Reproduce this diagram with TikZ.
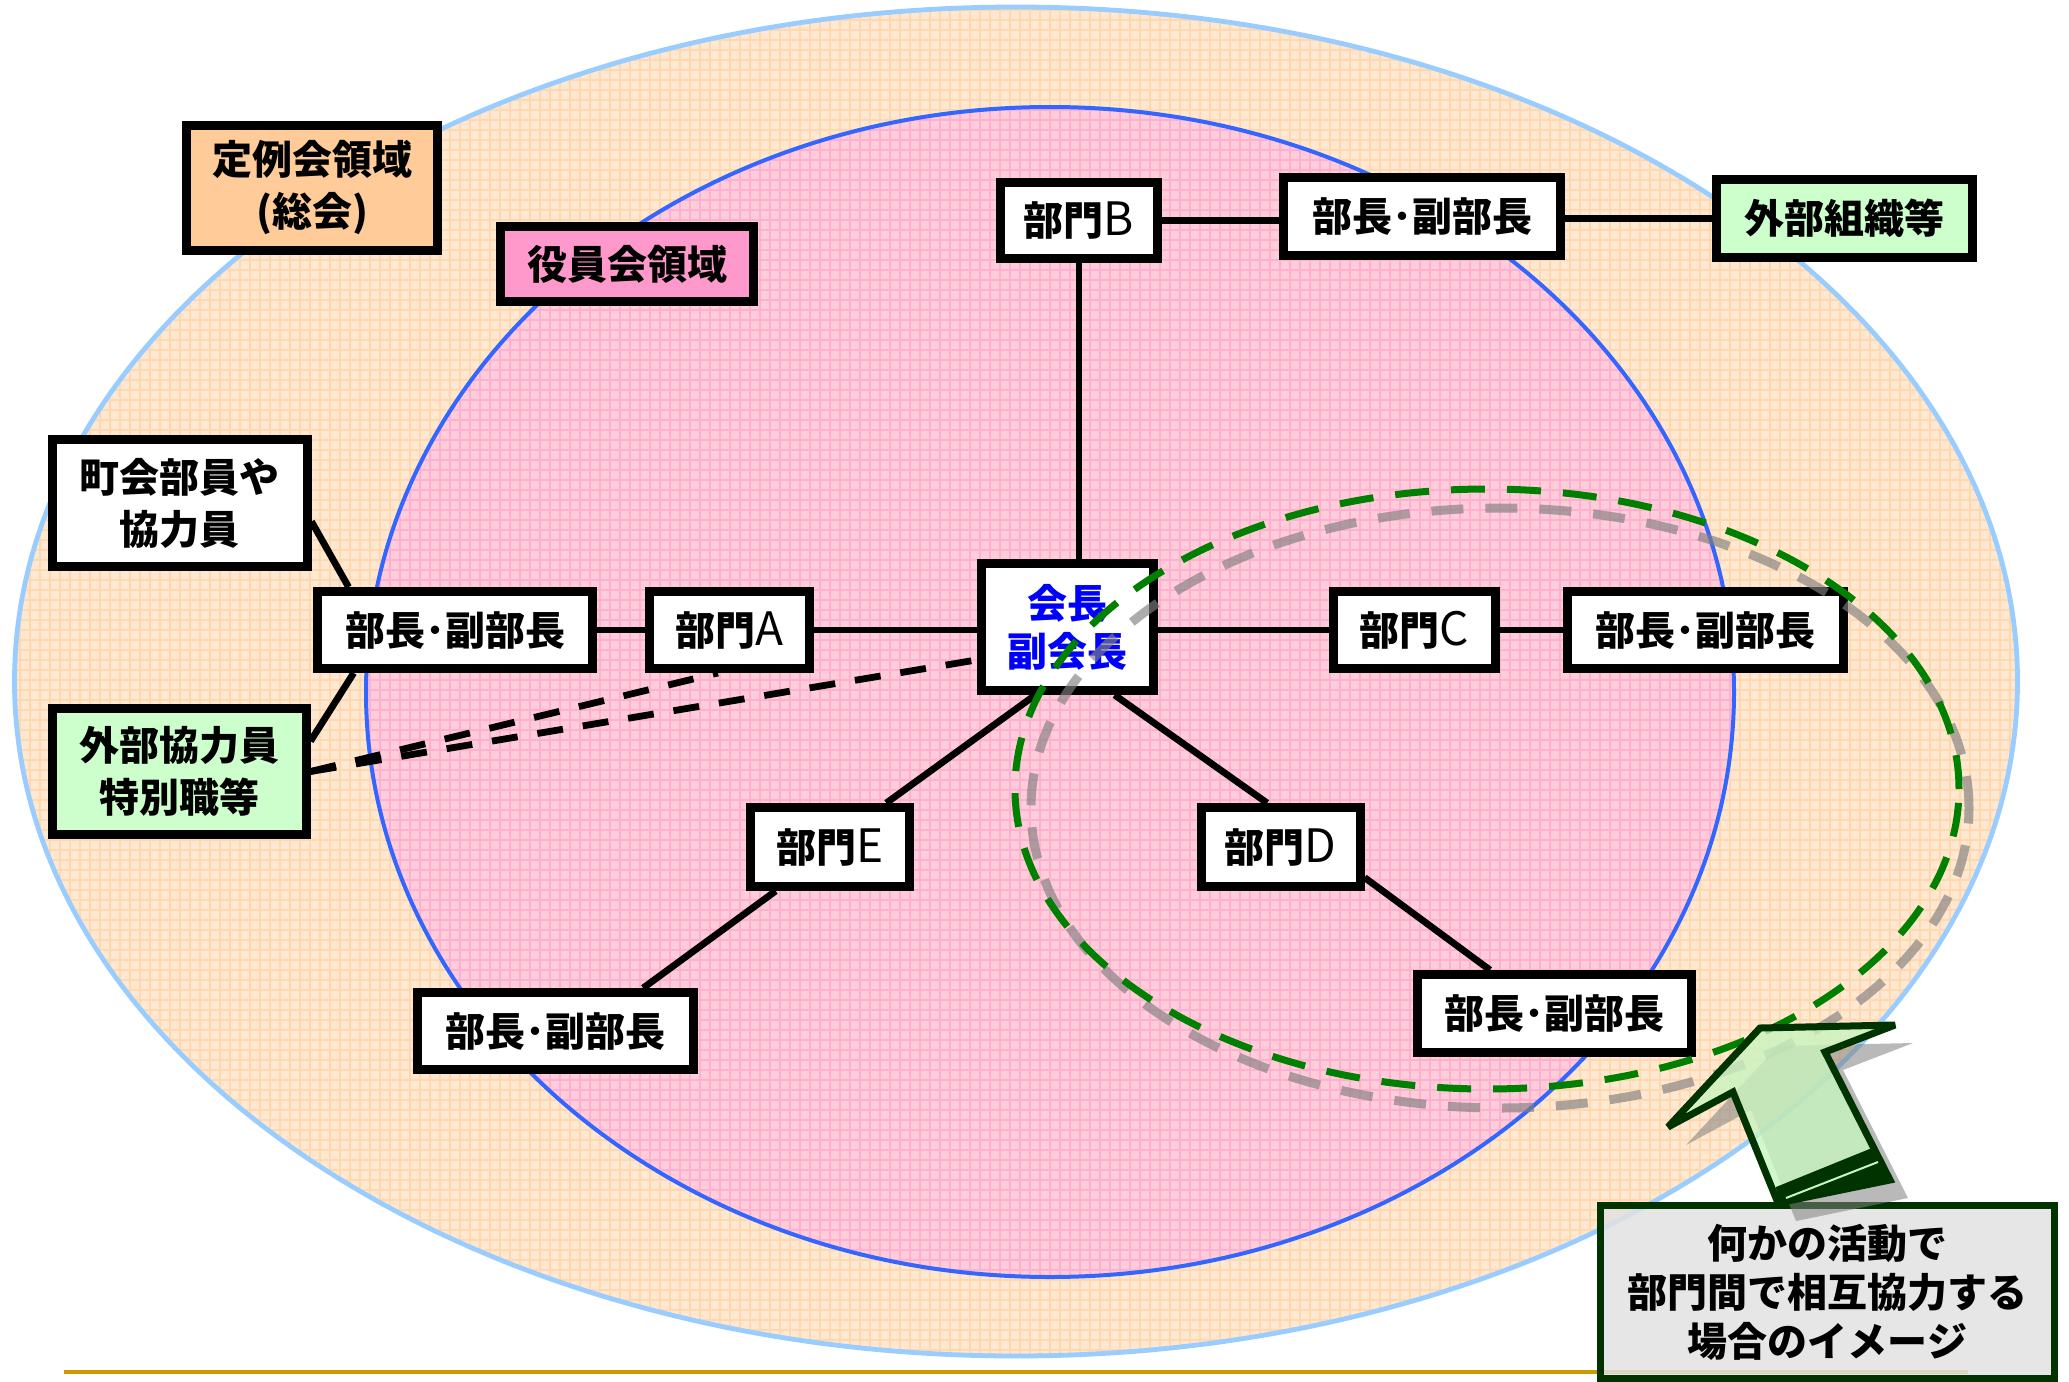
\documentclass[tikz,border=0pt]{standalone}
\usepackage{fontspec}
\setmainfont{Noto Sans CJK JP}
\definecolor{outerfill}{HTML}{FFE8D2}
\definecolor{outergrid}{HTML}{FFD8B0}
\definecolor{outerline}{HTML}{99CCFF}
\definecolor{innerfill}{HTML}{FFCCDA}
\definecolor{innergrid}{HTML}{FFB0D0}
\definecolor{innerline}{HTML}{3366FF}
\definecolor{orangebox}{HTML}{FFCC99}
\definecolor{pinkbox}{HTML}{FF99CC}
\definecolor{greenbox}{HTML}{CCFFCC}
\definecolor{dgreen}{HTML}{003300}
\definecolor{dashgreen}{HTML}{008000}
\definecolor{gold}{HTML}{CC9900}
\definecolor{notefill}{HTML}{E2E2E2}
\definecolor{arrowfill}{HTML}{C8F5C0}
\newcommand{\lat}[1]{{\mdseries\fontsize{23}{26}\selectfont #1}}
\begin{document}
\begin{tikzpicture}[x=0.5pt,y=-0.5pt,
  box/.style={draw=black,line width=4.5pt,fill=white,inner sep=0pt,align=center,
    font=\bfseries\fontsize{20}{26}\selectfont},
  conn/.style={line width=3.4pt,black},
  dconn/.style={line width=3.4pt,black,dash pattern=on 13pt off 10pt},
  gdash/.style={line width=3.5pt,dashgreen,dash pattern=on 17pt off 11pt},
  graydash/.style={line width=4.5pt,gray,opacity=0.65,dash pattern=on 16pt off 11pt},
]
\useasboundingbox (0,0) rectangle (2069,1382);
\fill[white] (0,0) rectangle (2069,1382);

% outer region
\fill[outerfill] (1016,681.5) ellipse [x radius=500.75pt, y radius=337.25pt];
\begin{scope}
  \clip (1016,681.5) ellipse [x radius=500.75pt, y radius=337.25pt];
  \foreach \i in {0,10,...,2070} \draw[outergrid,line width=0.6pt] (\i,0) -- (\i,1382);
  \foreach \j in {0,10,...,1380} \draw[outergrid,line width=0.6pt] (0,\j) -- (2069,\j);
\end{scope}
\draw[outerline,line width=2.4pt] (1016,681.5) ellipse [x radius=500.75pt, y radius=337.25pt];

% inner region
\fill[innerfill] (1050,692) ellipse [x radius=342pt, y radius=292.5pt];
\begin{scope}
  \clip (1050,692) ellipse [x radius=342pt, y radius=292.5pt];
  \foreach \i in {0,10,...,2070} \draw[innergrid,line width=0.6pt] (\i,0) -- (\i,1382);
  \foreach \j in {0,10,...,1380} \draw[innergrid,line width=0.6pt] (0,\j) -- (2069,\j);
\end{scope}
\draw[innerline,line width=2pt] (1050,692) ellipse [x radius=342pt, y radius=292.5pt];

% nodes
\node[box,fill=orangebox,minimum width=125.5pt,minimum height=62.5pt] (teirei) at (312,187.5) {定例会領域\\(総会)};
\node[box,fill=pinkbox,minimum width=126.5pt,minimum height=37.5pt] (yakuin) at (627,264) {役員会領域};
\node[box,minimum width=127.5pt,minimum height=63.5pt] (chokai) at (179.5,503) {町会部員や\\協力員};
\node[box,minimum width=137.5pt,minimum height=38.5pt] (bA) at (455,630) {部長･副部長};
\node[box,minimum width=80pt,minimum height=38.5pt] (mA) at (729.5,630) {部門\lat{A}};
\node[box,minimum width=86pt,minimum height=63.5pt,text=blue,
  font=\bfseries\fontsize{20}{24}\selectfont] (kaicho) at (1067,627) {会長\\副会長};
\node[box,minimum width=78.5pt,minimum height=38pt] (mB) at (1079,220.5) {部門\lat{B}};
\node[box,minimum width=138.5pt,minimum height=39pt] (bB) at (1422,216) {部長･副部長};
\node[box,fill=greenbox,minimum width=128pt,minimum height=39pt] (gs) at (1844.5,218.5) {外部組織等};
\node[box,minimum width=81pt,minimum height=38.5pt] (mC) at (1414.5,630) {部門\lat{C}};
\node[box,minimum width=138pt,minimum height=38.5pt] (bC) at (1705,630) {部長･副部長};
\node[box,fill=greenbox,minimum width=127pt,minimum height=63pt] (gk) at (179,771.5) {外部協力員\\特別職等};
\node[box,minimum width=79.5pt,minimum height=39.5pt] (mE) at (830,847) {部門\lat{E}};
\node[box,minimum width=138pt,minimum height=38.5pt] (bE) at (555,1031) {部長･副部長};
\node[box,minimum width=79.5pt,minimum height=39.5pt] (mD) at (1280.6,847) {部門\lat{D}};
\node[box,minimum width=137pt,minimum height=39pt] (bD) at (1554.5,1013.5) {部長･副部長};

% connectors
\draw[conn] (chokai.-8) -- (bA.158);
\draw[conn] (gk.13) -- (bA.203.5);
\draw[conn] (bA.east) -- (mA.west);
\draw[conn] (mA.east) -- (mA.east -| kaicho.west);
\draw[conn] (mB.south) -- (mB.south |- kaicho.north);
\draw[conn] (mB.east) -- (mB.east -| bB.west);
\draw[conn] (gs.west) -- (gs.west -| bB.east);
\draw[conn] (kaicho.east |- mC.west) -- (mC.west);
\draw[conn] (mC.east) -- (bC.west);
\draw[conn] (kaicho.245) -- (mE.38);
\draw[conn] (mE.219) -- (bE.26);
\draw[conn] (kaicho.305) -- (mD.107);
\draw[conn] (mD.-20) -- (bD.146);
\draw[dconn] (gk.east) -- (mA.255);
\draw[dconn] (gk.east) -- (kaicho.200);

% dashed cooperation ellipses
\draw[graydash] (1500,808) ellipse [x radius=234.5pt, y radius=150pt];
\draw[gdash] (1487,789) ellipse [x radius=236pt, y radius=150pt];

% gold rule
\coordinate (g1) at (64,1372);
\coordinate (g2) at (1968,1372);
\draw[gold,line width=2pt] (g1) -- (g2);

% note box
\node[draw=dgreen,line width=3.5pt,fill=notefill,fill opacity=0.85,text opacity=1,
  inner sep=0pt,align=center,minimum width=227pt,minimum height=86.5pt,
  font=\bfseries\fontsize{20}{24.5}\selectfont] (note) at (1827.5,1292)
  {何かの活動で\\部門間で相互協力する\\場合のイメージ};

% arrow shadow
\begin{scope}[shift={(18,18)}]
  \fill[gray,opacity=0.55] (1668,1127) -- (1760,1028) -- (1895,1025) -- (1825,1052)
    -- (1890,1180) -- (1778,1203) -- (1733,1092) -- cycle;
\end{scope}
% arrow
\filldraw[fill=arrowfill,fill opacity=0.8,draw=dgreen,line width=3.5pt,miter limit=4]
  (1668,1127) -- (1760,1028) -- (1895,1025) -- (1825,1052)
  -- (1890,1180) -- (1778,1203) -- (1733,1092) -- cycle;
\fill[dgreen] (1778,1203) -- (1890,1180) -- (1872,1148) -- (1776,1187) -- cycle;
\draw[arrowfill,line width=1pt] (1786,1198) -- (1878,1162);
\end{tikzpicture}
\end{document}
